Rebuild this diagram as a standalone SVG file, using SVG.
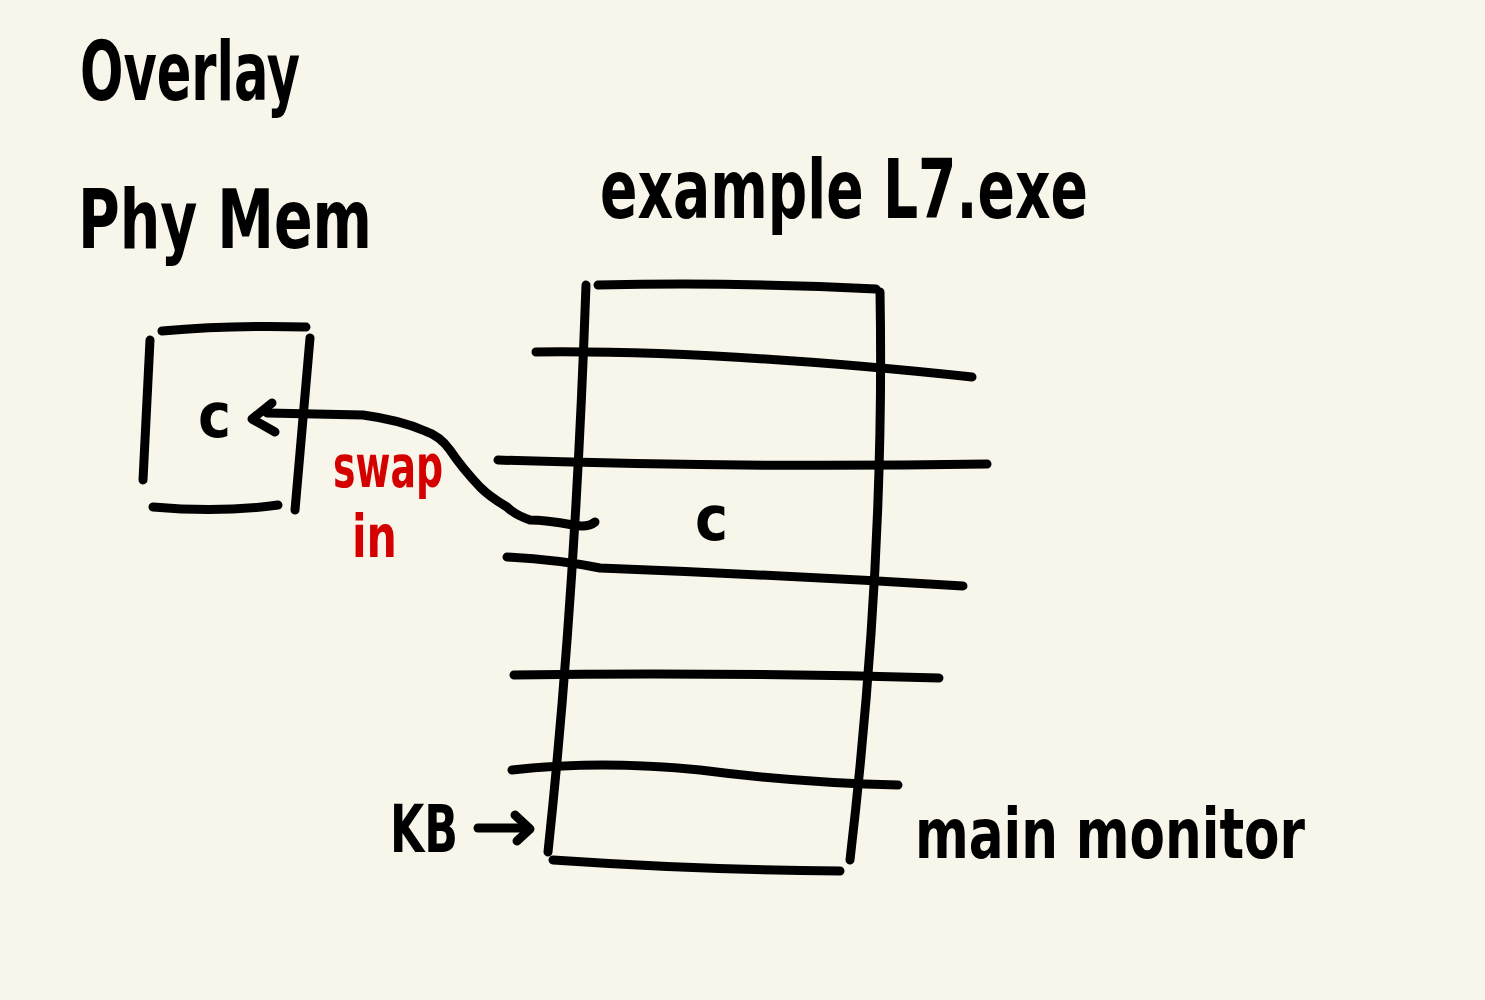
<svg xmlns="http://www.w3.org/2000/svg" width="1485" height="1000" viewBox="0 0 1485 1000">
<style>
.s{fill:none;stroke:#000;stroke-width:9;stroke-linecap:round;stroke-linejoin:round}
.t{font-family:"DejaVu Sans Condensed","DejaVu Sans","Liberation Sans",sans-serif;font-weight:bold;fill:#000}
.r{fill:#d40000}
</style>
<rect width="1485" height="1000" fill="#f8f6ea"/>
<g id="titles">
<text class="t" x="80" y="100" font-size="82" textLength="220" lengthAdjust="spacingAndGlyphs">Overlay</text>
<text class="t" x="78" y="248" font-size="82" textLength="294" lengthAdjust="spacingAndGlyphs">Phy Mem</text>
<text class="t" x="600" y="218" font-size="82" textLength="488" lengthAdjust="spacingAndGlyphs">example L7.exe</text>
</g>
<g id="phymem">
<path class="s" d="M162,331 Q230,325 306,327"/>
<path class="s" d="M150,340 L143,480"/>
<path class="s" d="M310,338 L295,510"/>
<path class="s" d="M153,507 Q220,513 278,505"/>
<text class="t" x="198" y="437" font-size="62">c</text>
</g>
<g id="exe">
<path class="s" d="M598,285 Q740,282 876,289"/>
<path class="s" d="M586,285 Q575,600 548,852"/>
<path class="s" d="M880,292 Q885,560 850,860"/>
<path class="s" d="M536,352 Q720,350 972,377"/>
<path class="s" d="M498,460 Q740,468 987,464"/>
<path class="s" d="M507,557 Q560,560 600,568 Q780,575 963,586"/>
<path class="s" d="M514,675 Q720,672 939,678"/>
<path class="s" d="M512,770 Q600,760 700,770 Q800,783 898,785"/>
<path class="s" d="M553,860 Q700,870 840,871"/>
<text class="t" x="695" y="540" font-size="62">c</text>
</g>
<g id="labels">
<text class="t r" x="333" y="487" font-size="58" textLength="110" lengthAdjust="spacingAndGlyphs">swap</text>
<text class="t r" x="352" y="557" font-size="58" textLength="45" lengthAdjust="spacingAndGlyphs">in</text>
<text class="t" x="390" y="852" font-size="66" textLength="68" lengthAdjust="spacingAndGlyphs">KB</text>
<text class="t" x="915" y="858" font-size="70" textLength="390" lengthAdjust="spacingAndGlyphs">main monitor</text>
</g>
<g id="connectors">
<path class="s" d="M595,522 Q588,528 573,525 Q545,520 530,520 Q515,515 507,507 Q490,497 480,487 Q462,468 450,450 Q440,436 425,431 Q400,420 363,415 L267,413"/>
<path class="s" d="M272,403 L252,419 L275,432"/>
<path class="s" d="M478,828 L528,828"/>
<path class="s" d="M515,815 L530,829 L517,841"/>
</g>
</svg>
